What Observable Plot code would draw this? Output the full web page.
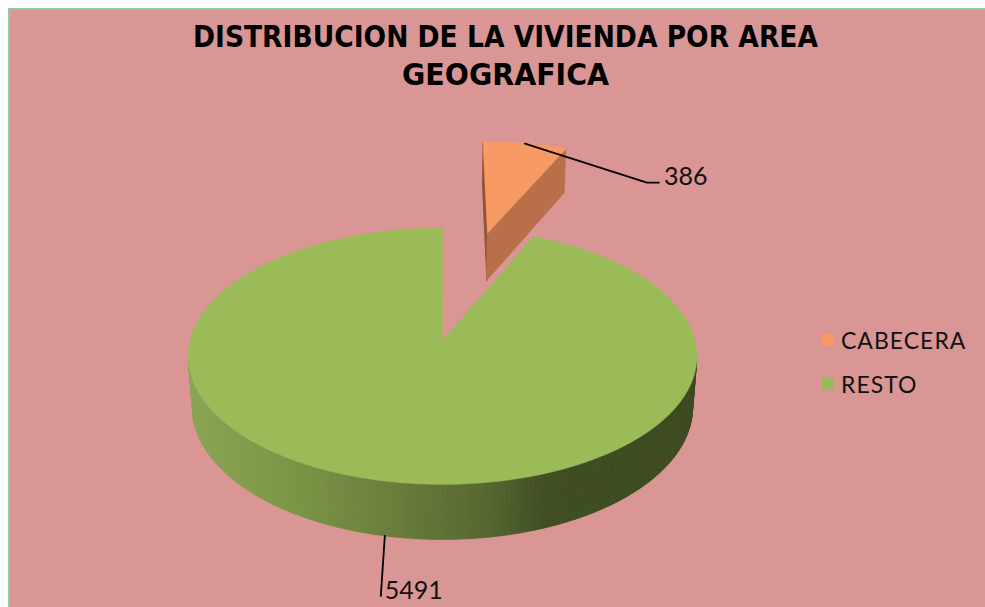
<!DOCTYPE html>
<html>
<head>
<meta charset="utf-8">
<script src="https://cdn.jsdelivr.net/npm/d3@7"></script>
<script src="https://cdn.jsdelivr.net/npm/@observablehq/plot@0.6"></script>
<style>
html, body { margin: 0; padding: 0; background: #ffffff; }
#wrap { position: relative; width: 985px; height: 607px; overflow: hidden; background: #ffffff; }
#panel { position: absolute; left: 8px; top: 8px; right: 0; bottom: 0; background: #D99694;
  border-top: 2px solid #8FCB9F; border-left: 2px solid #8FCB9F; }
#chart { position: absolute; left: 0; top: 0; }
#legend { position: absolute; left: 822px; top: 327px; font-family: Lato, "Open Sans", "DejaVu Sans", sans-serif;
  font-size: 23px; color: #111; letter-spacing: 1px; }
.item { position: absolute; left: 0; display: flex; align-items: center; height: 26px; white-space: nowrap; }
.sw { width: 12px; height: 12px; margin-right: 7px; flex: none; }
</style>
</head>
<body>
<div id="wrap">
  <div id="panel"></div>
  <div id="chart"></div>
  <div id="legend"></div>
</div>
<script>
// ---------- data ----------
const categories = ["CABECERA", "RESTO"];
const values = [386, 5491];
const sliceColors = ["#F89A63", "#9BBB59"];
const titleLines = ["DISTRIBUCION DE LA VIVIENDA POR AREA", "GEOGRAFICA"];

// ---------- 3D view settings ----------
const CX = 442, CY = 340;          // pie centre on screen
const DIST = 7.07, SCALE = 1785;    // perspective camera
const TILT = Math.PI / 6;           // elevation
const DEPTH = 0.236;                // pie thickness (radius = 1)
const EXPLODE = [0.97, 0];
const cam = [0, DIST * Math.sin(TILT), DIST * Math.cos(TILT)];

function proj([X, Y, Z]) {
  const depth = DIST - (Y * Math.sin(TILT) + Z * Math.cos(TILT));
  return [CX + X * SCALE / depth, CY - (Y * Math.cos(TILT) - Z * Math.sin(TILT)) * SCALE / depth];
}

const total = d3.sum(values);
let acc = 0;
const slices = values.map((v, i) => {
  const a0 = acc / total * 2 * Math.PI; acc += v;
  const a1 = acc / total * 2 * Math.PI;
  const mid = (a0 + a1) / 2;
  return {i, name: categories[i], value: v, a0, a1, mid,
    ox: EXPLODE[i] * Math.sin(mid), oz: -EXPLODE[i] * Math.cos(mid)};
});
function wp(s, r, th, Y) { return [s.ox + r * Math.sin(th), Y, s.oz - r * Math.cos(th)]; }
function visible(n, P) { return n[0] * (cam[0] - P[0]) + n[1] * (cam[1] - P[1]) + n[2] * (cam[2] - P[2]) > 1e-6; }

const greenShade = d3.scaleLinear()
  .domain([190, 300, 400, 490, 545, 697])
  .range(["#89A553", "#7A9446", "#677C3A", "#546630", "#404E24", "#3C4A21"])
  .clamp(true);
function sideColor(i, x) { return i === 0 ? "#B9704A" : greenShade(x); }

const sideLayers = [], topLayers = [];
for (const s of slices) {
  const sides = [];
  let id = 0;
  const pushPoly = (pts3, fill) => {
    const key = s.i + "-" + (id++);
    for (const p of pts3) { const [x, y] = proj(p); sides.push({id: key, x, y, fill}); }
  };
  const faces = [
    {a: s.a0, n: [-Math.cos(s.a0), 0, -Math.sin(s.a0)], start: true},
    {a: s.a1, n: [Math.cos(s.a1), 0, Math.sin(s.a1)], start: false}
  ];
  for (const f of faces) {
    const pts = [wp(s, 0, f.a, 0), wp(s, 1, f.a, 0), wp(s, 1, f.a, -DEPTH), wp(s, 0, f.a, -DEPTH)];
    if (visible(f.n, wp(s, 0.5, f.a, 0))) {
      const fill = s.i === 0 ? (f.start ? "#8E5234" : "#B9704A") : "#5E7232";
      pushPoly(pts, fill);
    }
  }
  const N = Math.max(4, Math.ceil((s.a1 - s.a0) / (2 * Math.PI) * 360));
  for (let k = 0; k < N; k++) {
    const t0 = s.a0 + (s.a1 - s.a0) * k / N, t1 = s.a0 + (s.a1 - s.a0) * (k + 1) / N;
    const tm = (t0 + t1) / 2;
    const n = [Math.sin(tm), 0, -Math.cos(tm)];
    if (!visible(n, wp(s, 1, tm, 0))) continue;
    const xm = proj(wp(s, 1, tm, 0))[0];
    pushPoly([wp(s, 1, t0, 0), wp(s, 1, t1, 0), wp(s, 1, t1, -DEPTH), wp(s, 1, t0, -DEPTH)], sideColor(s.i, xm));
  }
  sideLayers.push(sides);
  const top = [];
  const apex = proj(wp(s, 0, 0, 0));
  top.push({id: "t" + s.i, x: apex[0], y: apex[1], fill: sliceColors[s.i]});
  const M = Math.max(4, Math.ceil((s.a1 - s.a0) / (2 * Math.PI) * 360));
  for (let k = 0; k <= M; k++) {
    const t = s.a0 + (s.a1 - s.a0) * k / M;
    const [x, y] = proj(wp(s, 1, t, 0));
    top.push({id: "t" + s.i, x, y, fill: sliceColors[s.i]});
  }
  topLayers.push(top);
}

// labels with leader lines
const leaders = [], labels = [];
for (const s of slices) {
  const back = Math.cos(s.mid) > 0;
  const anchor = proj(wp(s, 1, s.mid, back ? 0 : -DEPTH));
  let pts, tx, ty;
  if (back) {
    const elbow = [anchor[0] + 122, anchor[1] + 39];
    const end = [elbow[0] + 12, elbow[1]];
    pts = [anchor, elbow, end]; tx = end[0] + 5; ty = end[1] + 2;
  } else {
    const end = [anchor[0] - 4, anchor[1] + 60];
    pts = [anchor, end]; tx = end[0] + 4; ty = end[1] + 3;
  }
  pts.forEach(([x, y]) => leaders.push({id: s.name, x, y}));
  labels.push({x: tx, y: ty, text: String(s.value)});
}

const titleRows = titleLines.map((t, i) => ({text: t, x: 505, y: [46, 84][i]}));

const marks = [];
for (let i = 0; i < slices.length; i++) {
  marks.push(Plot.line(sideLayers[i], {x: "x", y: "y", z: "id", fill: "fill", stroke: "fill", strokeWidth: 0.8, curve: "linear-closed"}));
  marks.push(Plot.line(topLayers[i], {x: "x", y: "y", z: "id", fill: "fill", stroke: "fill", strokeWidth: 0.5, curve: "linear-closed"}));
}
marks.push(Plot.line(leaders, {x: "x", y: "y", z: "id", stroke: "#000", strokeWidth: 1.8, fill: "none"}));
marks.push(Plot.text(labels, {x: "x", y: "y", text: "text", textAnchor: "start", lineAnchor: "bottom",
  fontSize: 25, fontFamily: "Lato, 'Open Sans', sans-serif", fill: "#111"}));
marks.push(Plot.text(titleRows, {x: "x", y: "y", text: "text", textAnchor: "middle", lineAnchor: "bottom",
  fontSize: 31, fontWeight: "bold", fontFamily: "'DejaVu Sans', sans-serif", fill: "#000"}));

const plot = Plot.plot({
  width: 985, height: 607, margin: 0,
  x: {type: "linear", domain: [0, 985], range: [0, 985], axis: null},
  y: {type: "linear", domain: [0, 607], range: [0, 607], axis: null},
  color: {type: "identity"},
  style: {background: "transparent", overflow: "visible"},
  marks
});
document.getElementById("chart").appendChild(plot);

// fit title lines to their measured widths
const titleWidths = [625, 207];
plot.querySelectorAll("text").forEach(t => {
  const idx = titleLines.indexOf(t.textContent);
  if (idx >= 0) { t.setAttribute("textLength", titleWidths[idx]); t.setAttribute("lengthAdjust", "spacingAndGlyphs"); }
});

// legend
const legend = document.getElementById("legend");
categories.forEach((c, i) => {
  const item = document.createElement("div");
  item.className = "item";
  item.style.top = (i * 44) + "px";
  const sw = document.createElement("span");
  sw.className = "sw"; sw.style.background = sliceColors[i];
  const lab = document.createElement("span");
  lab.textContent = c;
  item.appendChild(sw); item.appendChild(lab);
  legend.appendChild(item);
});
</script>
</body>
</html>
